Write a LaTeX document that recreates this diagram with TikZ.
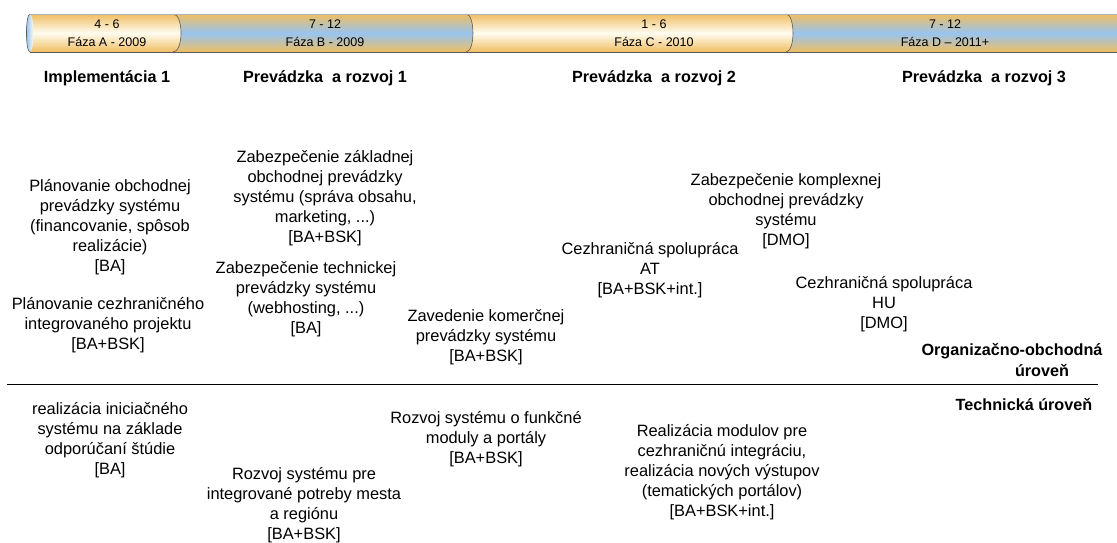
\documentclass[tikz,border=0pt]{standalone}
\usepackage{fontspec}
\setmainfont{Liberation Sans}
\definecolor{barorange}{HTML}{F0BE62}
\definecolor{barcream}{HTML}{FFFCF0}
\definecolor{barblue}{HTML}{98C4F0}
\definecolor{barline}{HTML}{5A5A5A}
\begin{document}
\begin{tikzpicture}[x=1pt,y=-1pt,
  txt/.style={align=center, inner sep=0pt, font=\fontsize{16.4}{20}\selectfont},
  hdr/.style={align=center, inner sep=0pt, font=\fontsize{16.2}{21}\selectfont\bfseries},
  bartxt/.style={align=center, inner sep=0pt, font=\fontsize{12.5}{18}\selectfont},
  warm/.style={top color=barorange, bottom color=barorange, middle color=barcream},
  cool/.style={top color=barorange, bottom color=barorange, middle color=barblue},
  rim/.style={draw=barline, line width=0.6pt},
]
\useasboundingbox (0,0) rectangle (1117,542);

% ---- timeline bar: four cylinder segments, drawn right to left ----
\shade[cool] (780,14) -- (1117,14) -- (1117,52) -- (780,52) -- cycle;
\shade[warm] (460,14) -- (786,14) .. controls (795.3,14) and (795.3,52) .. (786,52) -- (460,52) -- cycle;
\draw[rim] (786,14) .. controls (795.3,14) and (795.3,52) .. (786,52);
\shade[cool] (165,14) -- (466,14) .. controls (475.3,14) and (475.3,52) .. (466,52) -- (165,52) -- cycle;
\draw[rim] (466,14) .. controls (475.3,14) and (475.3,52) .. (466,52);
\shade[warm] (30,14) -- (173,14) .. controls (183.7,14) and (183.7,52) .. (173,52) -- (30,52) -- cycle;
\draw[rim] (173,14) .. controls (183.7,14) and (183.7,52) .. (173,52);
\shade[left color=barblue, right color=barcream] (30,33) ellipse [x radius=3.5, y radius=19];
\draw[barline, line width=0.6pt] (30,14) .. controls (25.3,14) and (25.3,52) .. (30,52);
\draw[gray!60, line width=0.6pt] (30,14) -- (1117,14);
\draw[barline, line width=0.8pt] (30,52) -- (1117,52);

\node[bartxt] (phA) at (107,33) {4 - 6\\Fáza A - 2009};
\node[bartxt] (phB) at (325,33) {7 - 12\\Fáza B - 2009};
\node[bartxt] (phC) at (654,33) {1 - 6\\Fáza C - 2010};
\node[bartxt] (phD) at (945,33) {7 - 12\\Fáza D – 2011+};

% ---- column headings ----
\node[hdr] (h1) at (107,78) {Implementácia 1};
\node[hdr] (h2) at (325,78) {Prevádzka\ \ a rozvoj 1};
\node[hdr] (h3) at (654,78) {Prevádzka\ \ a rozvoj 2};
\node[hdr] (h4) at (984,78) {Prevádzka\ \ a rozvoj 3};

% ---- organisational / business level ----
\node[txt] (o1) at (110,227) {Plánovanie obchodnej\\prevádzky systému\\(financovanie, spôsob\\realizácie)\\{[BA]}};
\node[txt] (o2) at (108,325) {Plánovanie cezhraničného\\integrovaného projektu\\{[BA+BSK]}};
\node[txt] (o3) at (325,198) {Zabezpečenie základnej\\obchodnej prevádzky\\systému (správa obsahu,\\marketing, ...)\\{[BA+BSK]}};
\node[txt] (o4) at (306,299) {Zabezpečenie technickej\\prevádzky systému\\(webhosting, ...)\\{[BA]}};
\node[txt] (o5) at (486,337) {Zavedenie komerčnej\\prevádzky systému\\{[BA+BSK]}};
\node[txt] (o6) at (650,270) {Cezhraničná spolupráca\\AT\\{[BA+BSK+int.]}};
\node[txt] (o7) at (786,211) {Zabezpečenie komplexnej\\obchodnej prevádzky\\systému\\{[DMO]}};
\node[txt] (o8) at (884,304) {Cezhraničná spolupráca\\HU\\{[DMO]}};
\node[hdr] (lvlO) at (1012,360) {Organizačno-obchodná\\\hspace*{60pt}úroveň};

% ---- level divider ----
\coordinate (sepL) at (7,384);
\coordinate (sepR) at (1098,384);
\draw[line width=0.8pt] (sepL) -- (sepR);

% ---- technical level ----
\node[hdr] (lvlT) at (1024,405) {Technická úroveň};
\node[txt] (t1) at (110,440) {realizácia iniciačného\\systému na základe\\odporúčaní štúdie\\{[BA]}};
\node[txt] (t2) at (304,505) {Rozvoj systému pre\\integrované potreby mesta\\a regiónu\\{[BA+BSK]}};
\node[txt] (t3) at (486,439) {Rozvoj systému o funkčné\\moduly a portály\\{[BA+BSK]}};
\node[txt] (t4) at (722,472) {Realizácia modulov pre\\cezhraničnú integráciu,\\realizácia nových výstupov\\(tematických portálov)\\{[BA+BSK+int.]}};
\end{tikzpicture}
\end{document}
